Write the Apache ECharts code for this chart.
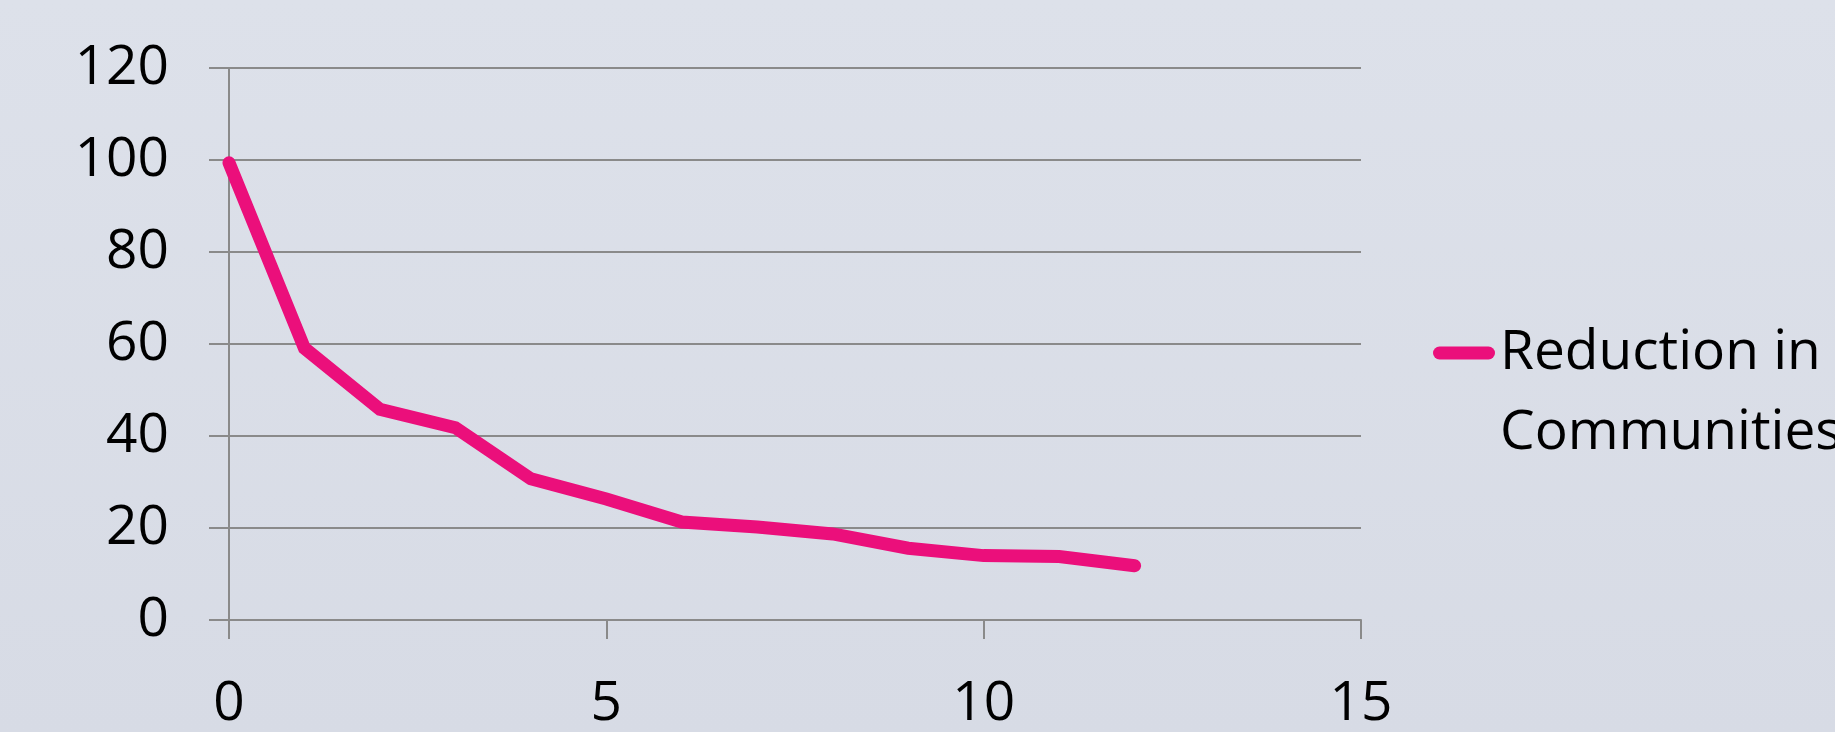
<!DOCTYPE html>
<html>
<head>
<meta charset="utf-8">
<script src="https://cdn.jsdelivr.net/npm/echarts@6/dist/echarts.min.js"></script>
<style>
  html, body { margin: 0; padding: 0; }
  #chart { width: 1835px; height: 732px; }
</style>
</head>
<body>
<div id="chart"></div>
<script>
// Step number (x) and remaining share (y) of the reduction in communities
const steps = [0, 1, 2, 3, 4, 5, 6, 7, 8, 9, 10, 11, 12];
const reduction = [99.4, 59.1, 45.8, 41.8, 30.7, 26.3, 21.3, 20.2, 18.7, 15.6, 14.0, 13.8, 11.8];
const seriesName = 'Reduction in\nCommunities';

const xTicks = { min: 0, max: 15, interval: 5 };
const yTicks = { min: 0, max: 120, interval: 20 };

const FONT = '"Open Sans", Lato, sans-serif';
const GRID_GREY = '#8a8a8a';
const PINK = '#eb0f7b';

const chart = echarts.init(document.getElementById('chart'), null, { renderer: 'canvas' });

chart.setOption({
  backgroundColor: {
    type: 'linear', x: 0, y: 0, x2: 0, y2: 1,
    colorStops: [{ offset: 0, color: '#dde1ea' }, { offset: 1, color: '#d7dbe5' }]
  },
  animation: false,
  grid: { left: 229, right: 474, top: 68, bottom: 109, containLabel: false },
  legend: {
    left: 1428,
    top: 228,
    itemWidth: 62,
    itemHeight: 13,
    itemGap: 0,
    icon: 'path://M6.5,0 L55.5,0 A6.5,6.5 0 0 1 55.5,13 L6.5,13 A6.5,6.5 0 0 1 6.5,0 Z',
    // a blank leading line keeps the marker level with the first text line
    formatter: name => ' \n' + name,
    textStyle: {
      fontFamily: FONT,
      fontSize: 55,
      color: '#000',
      lineHeight: 80
    },
    data: [seriesName]
  },
  xAxis: {
    type: 'value',
    min: xTicks.min,
    max: xTicks.max,
    interval: xTicks.interval,
    axisLine: { show: true, lineStyle: { color: GRID_GREY, width: 2 } },
    axisTick: { show: true, length: 19, lineStyle: { color: GRID_GREY, width: 2 } },
    splitLine: { show: false },
    axisLabel: { fontFamily: FONT, fontSize: 55, color: '#000', margin: 57 }
  },
  yAxis: {
    type: 'value',
    min: yTicks.min,
    max: yTicks.max,
    interval: yTicks.interval,
    axisLine: { show: true, lineStyle: { color: GRID_GREY, width: 2 } },
    axisTick: { show: true, length: 20, lineStyle: { color: GRID_GREY, width: 2 } },
    splitLine: { show: true, lineStyle: { color: GRID_GREY, width: 2 } },
    axisLabel: { fontFamily: FONT, fontSize: 55, color: '#000', margin: 60 }
  },
  series: [{
    name: seriesName,
    type: 'line',
    data: steps.map((s, i) => [s, reduction[i]]),
    showSymbol: false,
    symbol: 'none',
    color: PINK,
    lineStyle: { color: PINK, width: 13, cap: 'round', join: 'miter' }
  }]
});
</script>
</body>
</html>
